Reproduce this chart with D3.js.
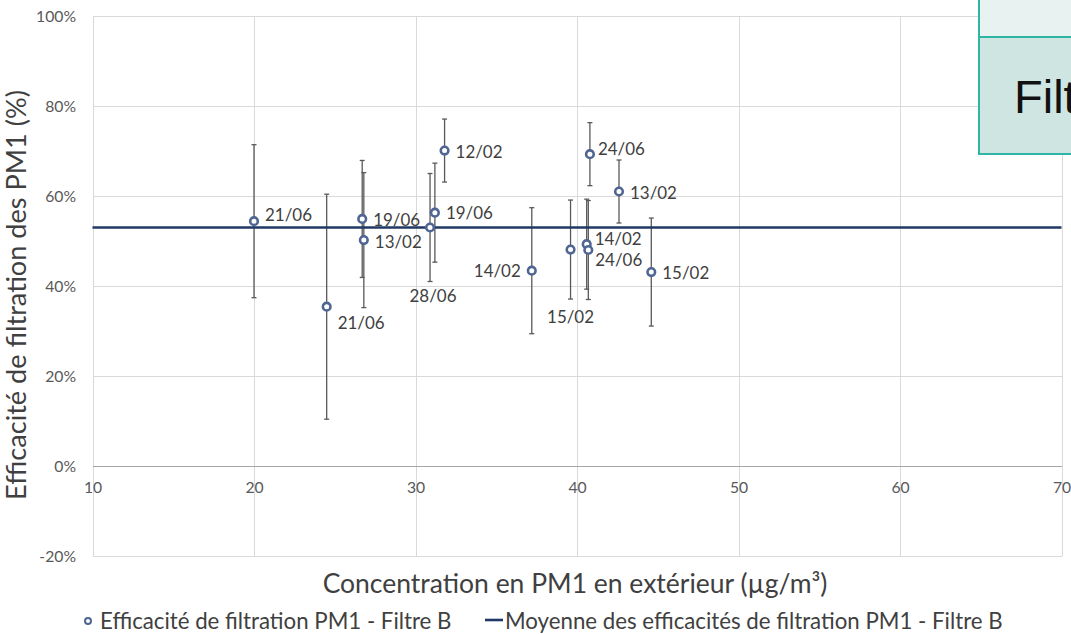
<!DOCTYPE html>
<html>
<head>
<meta charset="utf-8">
<script src="https://cdn.jsdelivr.net/npm/d3@7"></script>
<style>
  html, body { margin: 0; padding: 0; background: #fff; }
  svg { display: block; }
</style>
</head>
<body>
<svg id="chart" width="1071" height="635"></svg>
<script>
// data
const dateLabels = ['21/06', '21/06', '19/06', '13/02', '28/06', '19/06', '12/02', '14/02', '15/02', '14/02', '24/06', '24/06', '13/02', '15/02'];
const concentration = [20.0, 24.5, 26.7, 26.8, 30.9, 31.2, 31.8, 37.2, 39.6, 40.6, 40.7, 40.8, 42.6, 44.6];
const efficiency = [54.4, 35.4, 54.9, 50.2, 53.0, 56.3, 70.1, 43.4, 48.1, 49.3, 48.0, 69.3, 61.0, 43.1];
const errorMargin = [17, 25, 13, 15, 12, 11, 7, 14, 11, 10, 11, 7, 7, 12];
const meanX = [10, 70];
const meanEfficiency = [53.0, 53.0];
const xTicks = [10, 20, 30, 40, 50, 60, 70];
const yTicks = [-20, 0, 20, 40, 60, 80, 100];

const seriesName = 'Efficacité de filtration PM1 - Filtre B';
const meanName = 'Moyenne des efficacités de filtration PM1 - Filtre B';
const xTitle = 'Concentration en PM1 en extérieur (µg/m³)';
const yTitle = 'Efficacité de filtration des PM1 (%)';

// where each data label sits relative to its point (Excel labels were moved by hand)
const labelPos = [
  [11, -7, 'start'], [11, 16, 'start'], [11, 1, 'start'], [11, 1, 'start'],
  [3, 68, 'middle'], [11, 0, 'start'], [11, 1, 'start'], [-11, 0, 'end'],
  [0, 67, 'middle'], [8, -6, 'start'], [7, 9, 'start'], [8, -6, 'start'],
  [11, 1, 'start'], [11, 0, 'start']
];

const FONT = 'Lato, "Open Sans", sans-serif';
const MARKER = '#4f6592';
const svg = d3.select('#chart');
svg.append('rect').attr('width', 1071).attr('height', 635).attr('fill', '#fff');

// font size that makes a string take a given width
function fitSize(txt, width) {
  const t = svg.append('text').attr('font-family', FONT).attr('font-size', 100).text(txt);
  const w = t.node().getComputedTextLength();
  t.remove();
  return 100 * width / w;
}

const x = d3.scaleLinear().domain([10, 70]).range([92.5, 1061.5]);
const y = d3.scaleLinear().domain([-20, 100]).range([556, 16]);

const tickSize = fitSize('100%', 40);
const labelSize = fitSize('21/06', 47);

// vertical grid
svg.append('g')
  .attr('transform', `translate(0,${y(100)})`)
  .call(d3.axisBottom(x).tickValues(xTicks).tickSize(y(-20) - y(100)).tickFormat(''))
  .call(s => s.select('.domain').remove())
  .call(s => s.selectAll('line').attr('stroke', '#d9d9d9').attr('shape-rendering', 'crispEdges'));

// horizontal grid + y labels
svg.append('g')
  .attr('transform', `translate(${x(10)},0)`)
  .call(d3.axisLeft(y).tickValues(yTicks).tickSize(-(x(70) - x(10))).tickPadding(16.5).tickFormat(d => d + '%'))
  .call(s => s.select('.domain').remove())
  .call(s => s.selectAll('line')
    .attr('stroke', d => d === 0 ? '#a6a6a6' : '#d9d9d9')
    .attr('shape-rendering', 'crispEdges'))
  .call(s => s.selectAll('text')
    .attr('font-family', FONT).attr('font-size', tickSize).attr('fill', '#595959'));

// x labels under the 0% line
svg.append('g')
  .attr('transform', `translate(0,${y(0)})`)
  .call(d3.axisBottom(x).tickValues(xTicks).tickSize(0).tickPadding(16))
  .call(s => s.select('.domain').remove())
  .call(s => s.selectAll('text')
    .attr('font-family', FONT).attr('font-size', tickSize).attr('fill', '#595959'));

// error bars
const bars = svg.append('g').attr('stroke', '#595959').attr('stroke-width', 1.3);
concentration.forEach((c, i) => {
  const cx = x(c), top = y(efficiency[i] + errorMargin[i]), bot = y(efficiency[i] - errorMargin[i]);
  bars.append('line').attr('x1', cx).attr('x2', cx).attr('y1', top).attr('y2', bot);
  bars.append('line').attr('x1', cx - 2.5).attr('x2', cx + 2.5).attr('y1', top).attr('y2', top);
  bars.append('line').attr('x1', cx - 2.5).attr('x2', cx + 2.5).attr('y1', bot).attr('y2', bot);
});

// mean line
const line = d3.line().x(d => x(d[0])).y(d => y(d[1]));
svg.append('path')
  .datum(d3.zip(meanX, meanEfficiency))
  .attr('d', line)
  .attr('fill', 'none').attr('stroke', '#1f3864').attr('stroke-width', 2.6);

// markers
svg.append('g').selectAll('circle')
  .data(d3.range(concentration.length))
  .join('circle')
  .attr('cx', i => x(concentration[i]))
  .attr('cy', i => y(efficiency[i]))
  .attr('r', 3.8)
  .attr('fill', '#fff').attr('stroke', MARKER).attr('stroke-width', 2.6);

// data labels
svg.append('g').selectAll('text')
  .data(d3.range(concentration.length))
  .join('text')
  .attr('x', i => x(concentration[i]) + labelPos[i][0])
  .attr('y', i => y(efficiency[i]) + labelPos[i][1])
  .attr('text-anchor', i => labelPos[i][2])
  .attr('dominant-baseline', 'central')
  .attr('font-family', FONT).attr('font-size', labelSize).attr('fill', '#404040')
  .text(i => dateLabels[i]);

// axis titles
svg.append('text')
  .attr('x', 575).attr('y', 583)
  .attr('text-anchor', 'middle').attr('dominant-baseline', 'central')
  .attr('font-family', FONT).attr('font-size', fitSize(xTitle, 505)).attr('fill', '#404040')
  .text(xTitle);

svg.append('text')
  .attr('transform', 'translate(15,295) rotate(-90)')
  .attr('text-anchor', 'middle').attr('dominant-baseline', 'central')
  .attr('font-family', FONT).attr('font-size', fitSize(yTitle, 410)).attr('fill', '#404040')
  .text(yTitle);

// legend
const legendSize = fitSize(meanName, 498);
const legend = svg.append('g').attr('font-family', FONT).attr('font-size', legendSize).attr('fill', '#404040');
legend.append('circle').attr('cx', 88).attr('cy', 621).attr('r', 3)
  .attr('fill', '#fff').attr('stroke', MARKER).attr('stroke-width', 2);
legend.append('text').attr('x', 100).attr('y', 620).attr('dominant-baseline', 'central').text(seriesName);
legend.append('line').attr('x1', 485).attr('x2', 503).attr('y1', 620).attr('y2', 620)
  .attr('stroke', '#1f3864').attr('stroke-width', 2.6);
legend.append('text').attr('x', 505).attr('y', 620).attr('dominant-baseline', 'central').text(meanName);

// slide box overlapping the top right corner (cut by the picture edge, as in the source)
const box = svg.append('g');
box.append('rect').attr('x', 979).attr('y', -10).attr('width', 120).attr('height', 47)
  .attr('fill', '#e8f3f1').attr('stroke', '#2fb5a5').attr('stroke-width', 2);
box.append('rect').attr('x', 979).attr('y', 37).attr('width', 120).attr('height', 117)
  .attr('fill', '#cfe5e2').attr('stroke', '#2fb5a5').attr('stroke-width', 2);
box.append('text').attr('x', 1014).attr('y', 113)
  .attr('font-family', '"Liberation Sans", Arial, sans-serif').attr('font-size', 47).attr('fill', '#111')
  .text('Filt');
</script>
</body>
</html>
